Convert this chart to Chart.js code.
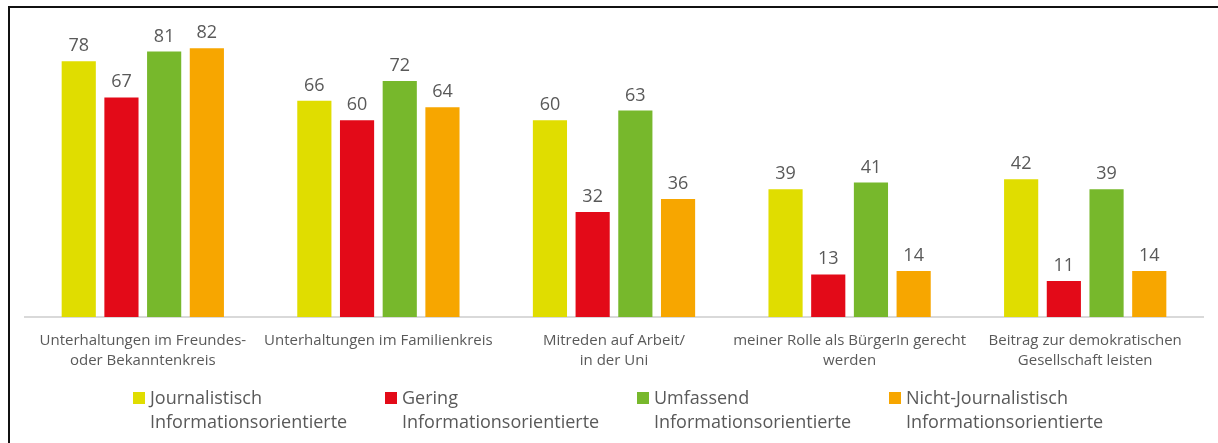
<!DOCTYPE html>
<html>
<head>
<meta charset="utf-8">
<script src="https://cdn.jsdelivr.net/npm/chart.js@4"></script>
<style>
  html, body { margin: 0; padding: 0; background: #fff; }
  #wrap { position: relative; width: 1218px; height: 443px; overflow: hidden; }
  #chart { position: absolute; left: 0; top: 0; }
  #frame { position: absolute; left: 8px; top: 6px; right: 0; bottom: 0;
           border-left: 2px solid #111; border-top: 2px solid #111; pointer-events: none; }
  #legend { position: absolute; left: 0; top: 385px; width: 1218px; font-family: "Open Sans", sans-serif;
            font-size: 18px; color: #595959; line-height: 24px; }
  .item { position: absolute; top: 0; }
  .box { position: absolute; left: 0; top: 7px; width: 12px; height: 12px; }
  .txt { position: absolute; left: 17px; top: 0; white-space: nowrap; }
</style>
</head>
<body>
<div id="wrap">
  <canvas id="chart" width="1218" height="443"></canvas>
  <div id="frame"></div>
  <div id="legend"></div>
</div>
<script>
// Data
const categories = [
  ['Unterhaltungen im Freundes-', 'oder Bekanntenkreis'],
  'Unterhaltungen im Familienkreis',
  ['Mitreden auf Arbeit/', 'in der Uni'],
  ['meiner Rolle als BürgerIn gerecht', 'werden'],
  ['Beitrag zur demokratischen', 'Gesellschaft leisten']
];
const seriesNames = [
  ['Journalistisch', 'Informationsorientierte'],
  ['Gering', 'Informationsorientierte'],
  ['Umfassend', 'Informationsorientierte'],
  ['Nicht-Journalistisch', 'Informationsorientierte']
];
const journalistisch = [78, 66, 60, 39, 42];
const gering = [67, 60, 32, 13, 11];
const umfassend = [81, 72, 63, 41, 39];
const nichtJournalistisch = [82, 64, 36, 14, 14];
const colors = ['#e0dd00', '#e30a18', '#77b82c', '#f7a600'];

const seriesValues = [journalistisch, gering, umfassend, nichtJournalistisch];
const textColor = '#595959';

// Value labels above bars
const valueLabels = {
  id: 'valueLabels',
  afterDatasetsDraw(chart) {
    const ctx = chart.ctx;
    ctx.save();
    ctx.font = '18px "Open Sans", sans-serif';
    ctx.fillStyle = textColor;
    ctx.textAlign = 'center';
    ctx.textBaseline = 'alphabetic';
    chart.data.datasets.forEach((ds, i) => {
      chart.getDatasetMeta(i).data.forEach((bar, j) => {
        ctx.fillText(ds.data[j], bar.x, bar.y - 10);
      });
    });
    ctx.restore();
  }
};

new Chart(document.getElementById('chart'), {
  type: 'bar',
  data: {
    labels: categories,
    datasets: seriesValues.map((vals, i) => ({
      label: seriesNames[i].join(' '),
      data: vals,
      backgroundColor: colors[i],
      categoryPercentage: 0.725,
      barPercentage: 0.8
    }))
  },
  options: {
    responsive: false,
    animation: false,
    layout: { padding: { left: 25, right: 15, top: 22, bottom: 0 } },
    plugins: {
      legend: { display: false },
      tooltip: { enabled: false }
    },
    scales: {
      x: {
        grid: { display: false, drawTicks: false },
        border: { color: '#d9d9d9', width: 2 },
        ticks: {
          color: textColor,
          font: { family: '"Open Sans", sans-serif', size: 15, lineHeight: 1.33 },
          padding: 14,
          maxRotation: 0,
          autoSkip: false
        },
        afterFit: (axis) => { axis.height = 126; }
      },
      y: {
        display: false,
        min: 0,
        max: 90
      }
    }
  },
  plugins: [valueLabels]
});

// Legend
const legendEl = document.getElementById('legend');
const legendLeft = [133, 385, 637, 889];
seriesNames.forEach((name, i) => {
  const item = document.createElement('div');
  item.className = 'item';
  item.style.left = legendLeft[i] + 'px';
  item.innerHTML = `<div class="box" style="background:${colors[i]}"></div>
    <div class="txt">${name[0]}<br>${name[1]}</div>`;
  legendEl.appendChild(item);
});
</script>
</body>
</html>
